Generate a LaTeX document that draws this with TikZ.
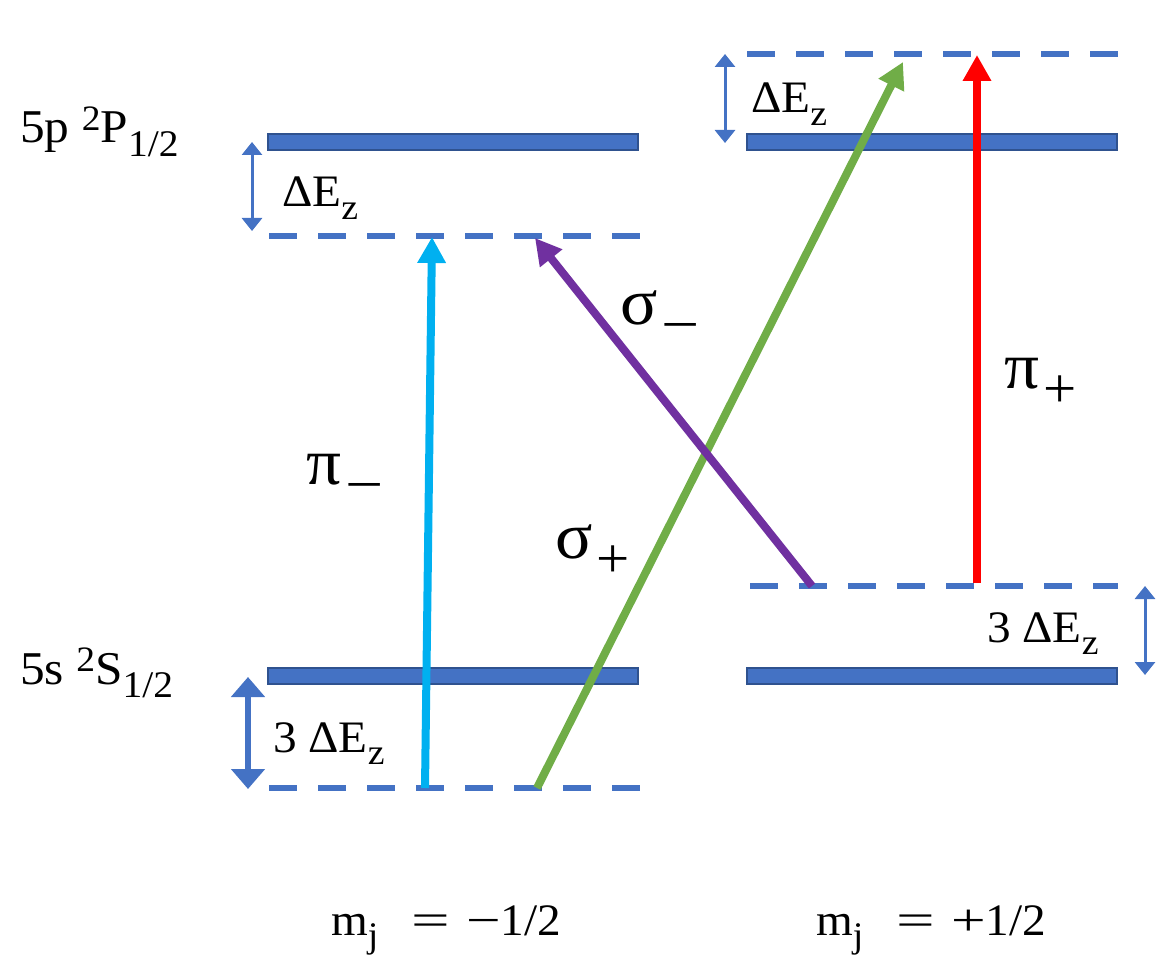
\documentclass[tikz,border=0pt]{standalone}
\usepackage{fontspec}
\setmainfont{Liberation Serif}[FakeStretch=1.05]
\usetikzlibrary{arrows.meta}
\definecolor{lvl}{HTML}{4472C4}
\definecolor{lvlb}{HTML}{2F528F}
\definecolor{cy}{HTML}{00B0F0}
\definecolor{gr}{HTML}{70AD47}
\definecolor{pu}{HTML}{7030A0}
\definecolor{rd}{HTML}{FF0000}
\newcommand\lsub[1]{\raisebox{-0.28em}{\scalebox{0.8}{#1}}}
\newcommand\lsup[1]{\raisebox{0.26em}{\scalebox{0.76}{#1}}}
\newcommand\gsub[1]{\hspace{4pt}\raisebox{-0.3em}{\scalebox{0.85}{#1}}}
\newcommand\wideop[2]{\scalebox{#1}[1]{#2}}
\tikzset{
  levelbar/.style={fill=lvl, draw=lvlb, line width=1.5pt},
  virt/.style={draw=lvl, line width=6pt, dash pattern=on 28pt off 21pt},
  trans/.style={line width=8pt, -{Triangle[width=27pt,length=26pt]}},
  gapthin/.style={draw=lvl, line width=3pt, {Triangle[width=20pt,length=13pt]}-{Triangle[width=20pt,length=13pt]}},
  gapthick/.style={draw=lvl, line width=6pt, {Triangle[width=33pt,length=20pt]}-{Triangle[width=33pt,length=20pt]}},
  lbl/.style={inner sep=0pt, anchor=base west},
  statefont/.style={font=\fontsize{47}{50}\selectfont},
  gapfont/.style={font=\fontsize{45}{49}\selectfont},
  greekfont/.style={font=\fontsize{66}{70}\selectfont},
  mjfont/.style={font=\fontsize{45}{48}\selectfont},
}
\begin{document}
\begin{tikzpicture}[x=1pt,y=-1pt]
\useasboundingbox (0,0) rectangle (1175,976);

% real levels
\draw[levelbar] (268,134) rectangle (638,150);
\draw[levelbar] (747,134) rectangle (1117,150);
\draw[levelbar] (268,668) rectangle (638,684);
\draw[levelbar] (747,668) rectangle (1117,684);

% shifted (Zeeman) sublevels
\coordinate (pmL) at (269,236); \coordinate (pmR) at (640,236);
\coordinate (ppL) at (747,54);  \coordinate (ppR) at (1118,54);
\coordinate (smL) at (269,788); \coordinate (smR) at (640,788);
\coordinate (spL) at (750,586); \coordinate (spR) at (1118,586);
\draw[virt] (pmL) -- (pmR);
\draw[virt] (ppL) -- (ppR);
\draw[virt] (smL) -- (smR);
\draw[virt] (spL) -- (spR);

% transitions
\coordinate (cyA) at (425,788); \coordinate (cyB) at (432,237);
\coordinate (grA) at (537,788); \coordinate (grB) at (903,62);
\coordinate (puA) at (812,586); \coordinate (puB) at (535,238);
\coordinate (rdA) at (977,583); \coordinate (rdB) at (977,55);
\draw[trans, cy] (cyA) -- (cyB);
\draw[trans, gr] (grA) -- (grB);
\draw[trans, pu] (puA) -- (puB);
\draw[trans, rd] (rdA) -- (rdB);

% splitting arrows
\coordinate (g1a) at (252,142); \coordinate (g1b) at (252,231);
\coordinate (g2a) at (725,54);  \coordinate (g2b) at (725,143);
\coordinate (g3a) at (1145,586); \coordinate (g3b) at (1145,675);
\coordinate (g4a) at (248,677); \coordinate (g4b) at (248,789);
\draw[gapthin] (g1a) -- (g1b);
\draw[gapthin] (g2a) -- (g2b);
\draw[gapthin] (g3a) -- (g3b);
\draw[gapthick] (g4a) -- (g4b);

% labels
\node[lbl, statefont] (lP) at (20,143) {5p \lsup{2}P\lsub{1/2}};
\node[lbl, statefont] (lS) at (20,684) {5s \lsup{2}S\lsub{1/2}};
\node[lbl, gapfont] (d1) at (282,207) {ΔE\lsub{z}};
\node[lbl, gapfont] (d2) at (751,113) {ΔE\lsub{z}};
\node[lbl, gapfont] (d3) at (273,752) {3 ΔE\lsub{z}};
\node[lbl, gapfont] (d4) at (987,642) {3 ΔE\lsub{z}};
\node[lbl, greekfont] (tpm) at (306,484) {π\gsub{\wideop{1.15}{−}}};
\node[lbl, greekfont] (tsp) at (555,558) {σ\gsub{+}};
\node[lbl, greekfont] (tsm) at (620,324) {σ\gsub{\wideop{1.15}{−}}};
\node[lbl, greekfont] (tpp) at (1004,388) {π\gsub{+}};
\node[lbl, mjfont] (m1) at (331,935) {m\lsub{j}\hspace{33pt}\wideop{1.45}{=}\hspace{16pt}\wideop{1.3}{−}1/2};
\node[lbl, mjfont] (m2) at (816,935) {m\lsub{j}\hspace{33pt}\wideop{1.45}{=}\hspace{16pt}\wideop{1.3}{+}1/2};
\end{tikzpicture}
\end{document}
